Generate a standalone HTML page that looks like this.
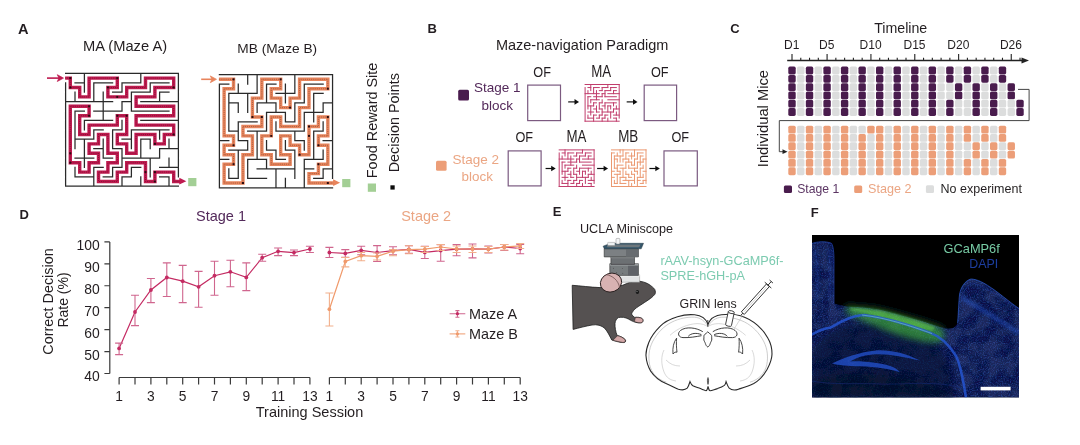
<!DOCTYPE html><html><head><meta charset="utf-8"><style>html,body{margin:0;padding:0;background:#fff;}svg{display:block;will-change:transform;}text{font-family:"Liberation Sans",sans-serif;}</style></head><body>
<svg width="1080" height="445" viewBox="0 0 1080 445">
<defs><filter id="soft" x="0" y="0" width="1080" height="445" filterUnits="userSpaceOnUse"><feGaussianBlur stdDeviation="0.4"/></filter></defs>
<rect width="1080" height="445" fill="#fff"/>
<g filter="url(#soft)">
<text x="18.0" y="34.2" font-size="14.6" fill="#231f20" font-weight="700" text-anchor="start" >A</text>
<text x="427.5" y="33.4" font-size="13" fill="#231f20" font-weight="700" text-anchor="start" >B</text>
<text x="730.2" y="33.3" font-size="13" fill="#231f20" font-weight="700" text-anchor="start" >C</text>
<text x="19.5" y="219.1" font-size="13" fill="#231f20" font-weight="700" text-anchor="start" >D</text>
<text x="552.8" y="215.8" font-size="13" fill="#231f20" font-weight="700" text-anchor="start" >E</text>
<text x="810.8" y="216.5" font-size="13" fill="#231f20" font-weight="700" text-anchor="start" >F</text>
<text x="83.0" y="50.6" font-size="14.7" fill="#231f20" font-weight="400" text-anchor="start" >MA (Maze A)</text>
<text x="237.3" y="53.3" font-size="13.7" fill="#231f20" font-weight="400" text-anchor="start" >MB (Maze B)</text>
<path d="M65.10 78.10L70.30 78.10L70.30 87.50L79.70 87.50L79.70 96.90L89.10 96.90L89.10 78.10L117.30 78.10L117.30 87.50L107.90 87.50L107.90 96.90L126.70 96.90L126.70 87.50L145.50 87.50L145.50 78.10L173.70 78.10L173.70 87.50L154.90 87.50L154.90 96.90L136.10 96.90L136.10 106.30L173.70 106.30L173.70 115.70L136.10 115.70L136.10 125.10L173.70 125.10L173.70 134.50L164.30 134.50L164.30 143.90L154.90 143.90L154.90 134.50L136.10 134.50L136.10 153.30L126.70 153.30L126.70 143.90L117.30 143.90L117.30 134.50L126.70 134.50L126.70 115.70L117.30 115.70L117.30 125.10L98.50 125.10L89.10 125.10L89.10 134.50L79.70 134.50L79.70 115.70L89.10 115.70L89.10 106.30L70.30 106.30L70.30 162.70L79.70 162.70L79.70 172.10L89.10 172.10L89.10 162.70L98.50 162.70L98.50 153.30L89.10 153.30L89.10 143.90L98.50 143.90L98.50 134.50L107.90 134.50L107.90 153.30L117.30 153.30L117.30 162.70L107.90 162.70L107.90 172.10L98.50 172.10L98.50 181.50L117.30 181.50L117.30 172.10L126.70 172.10L126.70 162.70L145.50 162.70L145.50 181.50L154.90 181.50L154.90 172.10L173.70 172.10L173.70 181.50L180.30 181.50" stroke="#be1a50" stroke-width="3.4" fill="none" stroke-linejoin="miter"/>
<path d="M65.10 78.10L70.30 78.10L70.30 87.50L79.70 87.50L79.70 96.90L89.10 96.90L89.10 78.10L117.30 78.10L117.30 87.50L107.90 87.50L107.90 96.90L126.70 96.90L126.70 87.50L145.50 87.50L145.50 78.10L173.70 78.10L173.70 87.50L154.90 87.50L154.90 96.90L136.10 96.90L136.10 106.30L173.70 106.30L173.70 115.70L136.10 115.70L136.10 125.10L173.70 125.10L173.70 134.50L164.30 134.50L164.30 143.90L154.90 143.90L154.90 134.50L136.10 134.50L136.10 153.30L126.70 153.30L126.70 143.90L117.30 143.90L117.30 134.50L126.70 134.50L126.70 115.70L117.30 115.70L117.30 125.10L98.50 125.10L89.10 125.10L89.10 134.50L79.70 134.50L79.70 115.70L89.10 115.70L89.10 106.30L70.30 106.30L70.30 162.70L79.70 162.70L79.70 172.10L89.10 172.10L89.10 162.70L98.50 162.70L98.50 153.30L89.10 153.30L89.10 143.90L98.50 143.90L98.50 134.50L107.90 134.50L107.90 153.30L117.30 153.30L117.30 162.70L107.90 162.70L107.90 172.10L98.50 172.10L98.50 181.50L117.30 181.50L117.30 172.10L126.70 172.10L126.70 162.70L145.50 162.70L145.50 181.50L154.90 181.50L154.90 172.10L173.70 172.10L173.70 181.50L180.30 181.50" stroke="#3a0010" stroke-width="0.7" stroke-dasharray="0.7 1.2" fill="none" opacity="0.7"/>
<path d="M186.30 181.20L179.30 177.80L179.30 184.60Z" fill="#be1a50"/>
<path d="M65.60 73.40H178.40M75.00 82.80H84.40M93.80 82.80H112.60M122.00 82.80H140.80M150.20 82.80H169.00M112.60 92.20H122.00M131.40 92.20H150.20M159.60 92.20H169.00M65.60 101.60H112.60M122.00 101.60H131.40M140.80 101.60H178.40M75.00 111.00H84.40M93.80 111.00H122.00M131.40 111.00H169.00M84.40 120.40H112.60M140.80 120.40H178.40M93.80 129.80H103.20M112.60 129.80H122.00M131.40 129.80H169.00M75.00 139.20H93.80M122.00 139.20H131.40M140.80 139.20H150.20M93.80 148.60H103.20M112.60 148.60H122.00M159.60 148.60H178.40M75.00 158.00H93.80M103.20 158.00H112.60M122.00 158.00H159.60M93.80 167.40H103.20M112.60 167.40H122.00M131.40 167.40H140.80M159.60 167.40H178.40M75.00 176.80H93.80M103.20 176.80H112.60M122.00 176.80H131.40M159.60 176.80H169.00M65.60 186.20H178.40M65.60 82.80V186.20M75.00 92.20V101.60M75.00 111.00V148.60M75.00 167.40V176.80M84.40 73.40V92.20M84.40 120.40V129.80M84.40 139.20V167.40M93.80 82.80V101.60M93.80 129.80V139.20M93.80 167.40V186.20M103.20 92.20V120.40M103.20 139.20V158.00M112.60 129.80V148.60M112.60 167.40V176.80M122.00 82.80V92.20M122.00 101.60V111.00M122.00 120.40V129.80M122.00 148.60V167.40M122.00 176.80V186.20M131.40 92.20V111.00M131.40 129.80V148.60M131.40 167.40V176.80M140.80 73.40V82.80M140.80 139.20V158.00M140.80 176.80V186.20M150.20 82.80V92.20M150.20 139.20V148.60M150.20 158.00V176.80M159.60 92.20V101.60M159.60 129.80V139.20M159.60 148.60V158.00M169.00 139.20V148.60M169.00 158.00V167.40M169.00 176.80V186.20M178.40 73.40V176.80" stroke="#2b2b2b" stroke-width="1.25" fill="none" stroke-linecap="square"/>
<rect x="69.30" y="77.10" width="2.0" height="2.0" fill="#2a0a10"/>
<rect x="69.30" y="86.50" width="2.0" height="2.0" fill="#2a0a10"/>
<rect x="116.30" y="77.10" width="2.0" height="2.0" fill="#2a0a10"/>
<rect x="106.90" y="86.50" width="2.0" height="2.0" fill="#2a0a10"/>
<rect x="116.30" y="95.90" width="2.0" height="2.0" fill="#2a0a10"/>
<rect x="172.70" y="86.50" width="2.0" height="2.0" fill="#2a0a10"/>
<rect x="88.10" y="105.30" width="2.0" height="2.0" fill="#2a0a10"/>
<rect x="88.10" y="114.70" width="2.0" height="2.0" fill="#2a0a10"/>
<rect x="116.30" y="114.70" width="2.0" height="2.0" fill="#2a0a10"/>
<rect x="125.70" y="114.70" width="2.0" height="2.0" fill="#2a0a10"/>
<rect x="172.70" y="133.50" width="2.0" height="2.0" fill="#2a0a10"/>
<rect x="153.90" y="142.90" width="2.0" height="2.0" fill="#2a0a10"/>
<rect x="69.30" y="152.30" width="2.0" height="2.0" fill="#2a0a10"/>
<rect x="69.30" y="161.70" width="2.0" height="2.0" fill="#2a0a10"/>
<rect x="144.50" y="171.10" width="2.0" height="2.0" fill="#2a0a10"/>
<rect x="153.90" y="171.10" width="2.0" height="2.0" fill="#2a0a10"/>
<rect x="153.90" y="180.50" width="2.0" height="2.0" fill="#2a0a10"/>
<path d="M47 78.1H59.5" stroke="#be1a50" stroke-width="1.6"/>
<path d="M63.5 78.1L57.3 74.69999999999999L58.9 78.1L57.3 81.5Z" fill="#be1a50" stroke="#be1a50" stroke-width="0.7" stroke-linejoin="round"/>
<rect x="188.2" y="178" width="8.2" height="8.2" fill="#a3cf95"/>
<path d="M218.90 79.31L224.12 79.31L233.55 79.31L233.55 88.74L224.12 88.74L224.12 135.89L233.55 135.89L233.55 145.32L224.12 145.32L224.12 154.75L233.55 154.75L233.55 164.19L224.12 164.19L224.12 183.04L242.97 183.04L242.97 154.75L252.41 154.75L252.41 135.89L242.97 135.89L242.97 126.46L261.84 126.46L261.84 117.03L252.41 117.03L252.41 98.17L261.84 98.17L261.84 79.31L280.69 79.31L280.69 88.74L271.26 88.74L271.26 98.17L280.69 98.17L280.69 107.60L290.12 107.60L290.12 98.17L299.56 98.17L299.56 79.31L327.85 79.31L327.85 88.74L308.99 88.74L308.99 107.60L299.56 107.60L299.56 126.46L280.69 126.46L280.69 117.03L271.26 117.03L271.26 135.89L261.84 135.89L261.84 154.75L271.26 154.75L271.26 164.19L290.12 164.19L290.12 154.75L280.69 154.75L280.69 135.89L290.12 135.89L290.12 145.32L299.56 145.32L299.56 154.75L308.99 154.75L308.99 126.46L318.42 126.46L318.42 117.03L327.85 117.03L327.85 135.89L318.42 135.89L318.42 145.32L327.85 145.32L327.85 164.19L318.42 164.19L318.42 173.62L308.99 173.62L308.99 183.04L327.85 183.04L334.10 183.04" stroke="#e8845c" stroke-width="3.4" fill="none" stroke-linejoin="miter"/>
<path d="M218.90 79.31L224.12 79.31L233.55 79.31L233.55 88.74L224.12 88.74L224.12 135.89L233.55 135.89L233.55 145.32L224.12 145.32L224.12 154.75L233.55 154.75L233.55 164.19L224.12 164.19L224.12 183.04L242.97 183.04L242.97 154.75L252.41 154.75L252.41 135.89L242.97 135.89L242.97 126.46L261.84 126.46L261.84 117.03L252.41 117.03L252.41 98.17L261.84 98.17L261.84 79.31L280.69 79.31L280.69 88.74L271.26 88.74L271.26 98.17L280.69 98.17L280.69 107.60L290.12 107.60L290.12 98.17L299.56 98.17L299.56 79.31L327.85 79.31L327.85 88.74L308.99 88.74L308.99 107.60L299.56 107.60L299.56 126.46L280.69 126.46L280.69 117.03L271.26 117.03L271.26 135.89L261.84 135.89L261.84 154.75L271.26 154.75L271.26 164.19L290.12 164.19L290.12 154.75L280.69 154.75L280.69 135.89L290.12 135.89L290.12 145.32L299.56 145.32L299.56 154.75L308.99 154.75L308.99 126.46L318.42 126.46L318.42 117.03L327.85 117.03L327.85 135.89L318.42 135.89L318.42 145.32L327.85 145.32L327.85 164.19L318.42 164.19L318.42 173.62L308.99 173.62L308.99 183.04L327.85 183.04L334.10 183.04" stroke="#402010" stroke-width="0.7" stroke-dasharray="0.7 1.2" fill="none" opacity="0.7"/>
<path d="M340.10 182.70L333.10 179.30L333.10 186.10Z" fill="#e8845c"/>
<path d="M219.40 74.60H332.56M219.40 84.03H228.83M266.55 84.03H275.98M304.27 84.03H323.13M228.83 93.46H257.12M275.98 93.46H294.84M313.70 93.46H323.13M228.83 102.89H238.26M257.12 102.89H275.98M294.84 102.89H304.27M323.13 102.89H332.56M266.55 112.32H285.41M304.27 112.32H323.13M238.26 121.75H257.12M285.41 121.75H294.84M228.83 131.18H238.26M247.69 131.18H266.55M275.98 131.18H304.27M313.70 131.18H323.13M219.40 140.61H228.83M238.26 140.61H247.69M294.84 140.61H304.27M323.13 140.61H332.56M228.83 150.04H247.69M266.55 150.04H275.98M285.41 150.04H294.84M219.40 159.47H228.83M247.69 159.47H266.55M275.98 159.47H285.41M304.27 159.47H323.13M257.12 168.90H294.84M304.27 168.90H313.70M323.13 168.90H332.56M228.83 178.33H238.26M247.69 178.33H266.55M313.70 178.33H323.13M219.40 187.76H332.56M219.40 84.03V187.76M228.83 93.46V131.18M228.83 168.90V178.33M238.26 84.03V93.46M238.26 102.89V112.32M238.26 121.75V140.61M238.26 150.04V178.33M247.69 74.60V84.03M247.69 93.46V112.32M247.69 140.61V150.04M247.69 159.47V178.33M257.12 74.60V93.46M257.12 102.89V112.32M257.12 131.18V159.47M266.55 84.03V102.89M266.55 112.32V131.18M266.55 140.61V150.04M266.55 159.47V168.90M275.98 102.89V112.32M275.98 121.75V131.18M275.98 150.04V159.47M275.98 168.90V187.76M285.41 84.03V102.89M285.41 112.32V121.75M285.41 140.61V150.04M285.41 178.33V187.76M294.84 74.60V93.46M294.84 102.89V121.75M294.84 131.18V140.61M294.84 150.04V178.33M304.27 84.03V102.89M304.27 112.32V131.18M304.27 140.61V150.04M304.27 159.47V187.76M313.70 93.46V121.75M313.70 131.18V159.47M323.13 102.89V112.32M323.13 121.75V131.18M323.13 150.04V159.47M323.13 168.90V178.33M332.56 74.60V178.33" stroke="#2b2b2b" stroke-width="1.25" fill="none" stroke-linecap="square"/>
<rect x="232.55" y="78.31" width="2.0" height="2.0" fill="#2a0a10"/>
<rect x="279.69" y="78.31" width="2.0" height="2.0" fill="#2a0a10"/>
<rect x="289.12" y="106.60" width="2.0" height="2.0" fill="#2a0a10"/>
<rect x="326.85" y="87.74" width="2.0" height="2.0" fill="#2a0a10"/>
<rect x="251.41" y="116.03" width="2.0" height="2.0" fill="#2a0a10"/>
<rect x="260.84" y="116.03" width="2.0" height="2.0" fill="#2a0a10"/>
<rect x="270.26" y="134.89" width="2.0" height="2.0" fill="#2a0a10"/>
<rect x="232.55" y="144.32" width="2.0" height="2.0" fill="#2a0a10"/>
<rect x="232.55" y="163.19" width="2.0" height="2.0" fill="#2a0a10"/>
<rect x="241.97" y="182.04" width="2.0" height="2.0" fill="#2a0a10"/>
<rect x="326.85" y="116.03" width="2.0" height="2.0" fill="#2a0a10"/>
<rect x="307.99" y="125.46" width="2.0" height="2.0" fill="#2a0a10"/>
<rect x="307.99" y="134.89" width="2.0" height="2.0" fill="#2a0a10"/>
<rect x="317.42" y="144.32" width="2.0" height="2.0" fill="#2a0a10"/>
<rect x="298.56" y="153.75" width="2.0" height="2.0" fill="#2a0a10"/>
<rect x="317.42" y="163.19" width="2.0" height="2.0" fill="#2a0a10"/>
<rect x="326.85" y="182.04" width="2.0" height="2.0" fill="#2a0a10"/>
<path d="M201.2 79.3H212.5" stroke="#e8845c" stroke-width="1.6"/>
<path d="M216.5 79.3L210.3 75.89999999999999L211.9 79.3L210.3 82.7Z" fill="#e8845c" stroke="#e8845c" stroke-width="0.7" stroke-linejoin="round"/>
<rect x="342.2" y="179" width="8.2" height="8.2" fill="#a3cf95"/>
<g transform="translate(376.7 178.2) rotate(-90)"><text x="0" y="0" font-size="14.45" fill="#231f20">Food Reward Site</text></g>
<g transform="translate(398.9 172.3) rotate(-90)"><text x="0" y="0" font-size="14.4" fill="#231f20">Decision Points</text></g>
<rect x="367.8" y="183.5" width="8.2" height="8.3" fill="#a3cf95"/>
<rect x="390.4" y="185.3" width="4.3" height="4.3" fill="#111"/>
<text x="495.9" y="50.3" font-size="14.5" fill="#231f20" font-weight="400" text-anchor="start" >Maze-navigation Paradigm</text>
<rect x="458.2" y="89.8" width="10.8" height="10.6" rx="1.5" fill="#4a1d4e"/>
<text x="473.9" y="92.0" font-size="13.5" fill="#53295a" font-weight="400" text-anchor="start" >Stage 1</text>
<text x="481.4" y="109.6" font-size="13.5" fill="#53295a" font-weight="400" text-anchor="start" >block</text>
<rect x="436.0" y="160.7" width="10.6" height="10.1" rx="1.5" fill="#ec9e78"/>
<text x="452.4" y="164.3" font-size="13.5" fill="#eba684" font-weight="400" text-anchor="start" >Stage 2</text>
<text x="461.6" y="181.1" font-size="13.4" fill="#eba684" font-weight="400" text-anchor="start" >block</text>
<rect x="527.7" y="85.1" width="32.8" height="35.5" fill="none" stroke="#7b5a80" stroke-width="1.2"/>
<text transform="translate(542.1 76.8) scale(1 1.2)" x="0" y="0" font-size="12.7" fill="#231f20" text-anchor="middle">OF</text>
<path d="M568.2 101.9H576" stroke="#111" stroke-width="1.2"/><path d="M579 101.9L574.5 99.10000000000001L574.5 104.7Z" fill="#111"/>
<path d="M585.10 84.50H619.20M587.94 87.56H590.78M593.62 87.56H599.31M602.15 87.56H607.83M610.68 87.56H616.36M599.31 90.62H602.15M604.99 90.62H610.68M613.52 90.62H616.36M585.10 93.67H599.31M602.15 93.67H604.99M607.83 93.67H619.20M587.94 96.73H590.78M593.62 96.73H602.15M604.99 96.73H616.36M590.78 99.79H599.31M607.83 99.79H619.20M593.62 102.85H596.47M599.31 102.85H602.15M604.99 102.85H616.36M587.94 105.91H593.62M602.15 105.91H604.99M607.83 105.91H610.68M593.62 108.97H596.47M599.31 108.97H602.15M613.52 108.97H619.20M587.94 112.03H593.62M596.47 112.03H599.31M602.15 112.03H613.52M593.62 115.08H596.47M599.31 115.08H602.15M604.99 115.08H607.83M613.52 115.08H619.20M587.94 118.14H593.62M596.47 118.14H599.31M602.15 118.14H604.99M613.52 118.14H616.36M585.10 121.20H619.20M585.10 87.56V121.20M587.94 90.62V93.67M587.94 96.73V108.97M587.94 115.08V118.14M590.78 84.50V90.62M590.78 99.79V102.85M590.78 105.91V115.08M593.62 87.56V93.67M593.62 102.85V105.91M593.62 115.08V121.20M596.47 90.62V99.79M596.47 105.91V112.03M599.31 102.85V108.97M599.31 115.08V118.14M602.15 87.56V90.62M602.15 93.67V96.73M602.15 99.79V102.85M602.15 108.97V115.08M602.15 118.14V121.20M604.99 90.62V96.73M604.99 102.85V108.97M604.99 115.08V118.14M607.83 84.50V87.56M607.83 105.91V112.03M607.83 118.14V121.20M610.68 87.56V90.62M610.68 105.91V108.97M610.68 112.03V118.14M613.52 90.62V93.67M613.52 102.85V105.91M613.52 108.97V112.03M616.36 105.91V108.97M616.36 112.03V115.08M616.36 118.14V121.20M619.20 84.50V118.14" stroke="#c13d6c" stroke-width="1.0" fill="none" stroke-linecap="square"/>
<text transform="translate(601.2 76.8) scale(1 1.2)" x="0" y="0" font-size="13.3" fill="#231f20" text-anchor="middle">MA</text>
<path d="M626.7 101.9H634.5" stroke="#111" stroke-width="1.2"/><path d="M637.5 101.9L633.0 99.10000000000001L633.0 104.7Z" fill="#111"/>
<rect x="644.2" y="85.1" width="32.40000000000002" height="35.5" fill="none" stroke="#7b5a80" stroke-width="1.2"/>
<text transform="translate(659.7 76.8) scale(1 1.2)" x="0" y="0" font-size="12.7" fill="#231f20" text-anchor="middle">OF</text>
<rect x="508.20000000000005" y="150.9" width="32.90000000000002" height="34.999999999999986" fill="none" stroke="#7b5a80" stroke-width="1.2"/>
<text transform="translate(524.3 141.9) scale(1 1.2)" x="0" y="0" font-size="12.7" fill="#231f20" text-anchor="middle">OF</text>
<path d="M545.6 168.5H552.7" stroke="#111" stroke-width="1.2"/><path d="M555.7 168.5L551.2 165.7L551.2 171.3Z" fill="#111"/>
<path d="M559.20 149.90H594.10M562.11 152.95H565.02M567.93 152.95H573.74M576.65 152.95H582.47M585.38 152.95H591.19M573.74 156.00H576.65M579.56 156.00H585.38M588.28 156.00H591.19M559.20 159.05H573.74M576.65 159.05H579.56M582.47 159.05H594.10M562.11 162.10H565.02M567.93 162.10H576.65M579.56 162.10H591.19M565.02 165.15H573.74M582.47 165.15H594.10M567.93 168.20H570.83M573.74 168.20H576.65M579.56 168.20H591.19M562.11 171.25H567.93M576.65 171.25H579.56M582.47 171.25H585.38M567.93 174.30H570.83M573.74 174.30H576.65M588.28 174.30H594.10M562.11 177.35H567.93M570.83 177.35H573.74M576.65 177.35H588.28M567.93 180.40H570.83M573.74 180.40H576.65M579.56 180.40H582.47M588.28 180.40H594.10M562.11 183.45H567.93M570.83 183.45H573.74M576.65 183.45H579.56M588.28 183.45H591.19M559.20 186.50H594.10M559.20 152.95V186.50M562.11 156.00V159.05M562.11 162.10V174.30M562.11 180.40V183.45M565.02 149.90V156.00M565.02 165.15V168.20M565.02 171.25V180.40M567.93 152.95V159.05M567.93 168.20V171.25M567.93 180.40V186.50M570.83 156.00V165.15M570.83 171.25V177.35M573.74 168.20V174.30M573.74 180.40V183.45M576.65 152.95V156.00M576.65 159.05V162.10M576.65 165.15V168.20M576.65 174.30V180.40M576.65 183.45V186.50M579.56 156.00V162.10M579.56 168.20V174.30M579.56 180.40V183.45M582.47 149.90V152.95M582.47 171.25V177.35M582.47 183.45V186.50M585.38 152.95V156.00M585.38 171.25V174.30M585.38 177.35V183.45M588.28 156.00V159.05M588.28 168.20V171.25M588.28 174.30V177.35M591.19 171.25V174.30M591.19 177.35V180.40M591.19 183.45V186.50M594.10 149.90V183.45" stroke="#c13d6c" stroke-width="1.0" fill="none" stroke-linecap="square"/>
<text transform="translate(576.4 141.9) scale(1 1.2)" x="0" y="0" font-size="13.3" fill="#231f20" text-anchor="middle">MA</text>
<path d="M597.1 168.5H605.1" stroke="#111" stroke-width="1.2"/><path d="M608.1 168.5L603.6 165.7L603.6 171.3Z" fill="#111"/>
<path d="M611.50 149.90H646.00M611.50 152.95H614.38M625.88 152.95H628.75M637.38 152.95H643.12M614.38 156.00H623.00M628.75 156.00H634.50M640.25 156.00H643.12M614.38 159.05H617.25M623.00 159.05H628.75M634.50 159.05H637.38M643.12 159.05H646.00M625.88 162.10H631.62M637.38 162.10H643.12M617.25 165.15H623.00M631.62 165.15H634.50M614.38 168.20H617.25M620.12 168.20H625.88M628.75 168.20H637.38M640.25 168.20H643.12M611.50 171.25H614.38M617.25 171.25H620.12M634.50 171.25H637.38M643.12 171.25H646.00M614.38 174.30H620.12M625.88 174.30H628.75M631.62 174.30H634.50M611.50 177.35H614.38M620.12 177.35H625.88M628.75 177.35H631.62M637.38 177.35H643.12M623.00 180.40H634.50M637.38 180.40H640.25M643.12 180.40H646.00M614.38 183.45H617.25M620.12 183.45H625.88M640.25 183.45H643.12M611.50 186.50H646.00M611.50 152.95V186.50M614.38 156.00V168.20M614.38 180.40V183.45M617.25 152.95V156.00M617.25 159.05V162.10M617.25 165.15V171.25M617.25 174.30V183.45M620.12 149.90V152.95M620.12 156.00V162.10M620.12 171.25V174.30M620.12 177.35V183.45M623.00 149.90V156.00M623.00 159.05V162.10M623.00 168.20V177.35M625.88 152.95V159.05M625.88 162.10V168.20M625.88 171.25V174.30M625.88 177.35V180.40M628.75 159.05V162.10M628.75 165.15V168.20M628.75 174.30V177.35M628.75 180.40V186.50M631.62 152.95V159.05M631.62 162.10V165.15M631.62 171.25V174.30M631.62 183.45V186.50M634.50 149.90V156.00M634.50 159.05V165.15M634.50 168.20V171.25M634.50 174.30V183.45M637.38 152.95V159.05M637.38 162.10V168.20M637.38 171.25V174.30M637.38 177.35V186.50M640.25 156.00V165.15M640.25 168.20V177.35M643.12 159.05V162.10M643.12 165.15V168.20M643.12 174.30V177.35M643.12 180.40V183.45M646.00 149.90V183.45" stroke="#eb9870" stroke-width="1.0" fill="none" stroke-linecap="square"/>
<text transform="translate(628.2 141.9) scale(1 1.2)" x="0" y="0" font-size="13.4" fill="#231f20" text-anchor="middle">MB</text>
<path d="M649.4 168.5H656.8" stroke="#111" stroke-width="1.2"/><path d="M659.8 168.5L655.3 165.7L655.3 171.3Z" fill="#111"/>
<rect x="664.0" y="150.9" width="33.3" height="34.999999999999986" fill="none" stroke="#7b5a80" stroke-width="1.2"/>
<text transform="translate(680.3 141.9) scale(1 1.2)" x="0" y="0" font-size="12.7" fill="#231f20" text-anchor="middle">OF</text>
<text x="900.7" y="33.3" font-size="14.2" fill="#231f20" font-weight="400" text-anchor="middle" >Timeline</text>
<text x="791.7" y="48.8" font-size="12" fill="#231f20" font-weight="400" text-anchor="middle" >D1</text>
<text x="826.7800000000001" y="48.8" font-size="12" fill="#231f20" font-weight="400" text-anchor="middle" >D5</text>
<text x="870.63" y="48.8" font-size="12" fill="#231f20" font-weight="400" text-anchor="middle" >D10</text>
<text x="914.48" y="48.8" font-size="12" fill="#231f20" font-weight="400" text-anchor="middle" >D15</text>
<text x="958.33" y="48.8" font-size="12" fill="#231f20" font-weight="400" text-anchor="middle" >D20</text>
<text x="1010.95" y="48.8" font-size="12" fill="#231f20" font-weight="400" text-anchor="middle" >D26</text>
<path d="M787.2 60.5H1024" stroke="#222" stroke-width="1.5"/>
<path d="M1029 60.5L1021.5 57.4L1021.5 63.6Z" fill="#222"/>
<path d="M792.00 53.9V60.5M800.77 57.8V60.5M809.54 57.8V60.5M818.31 57.8V60.5M827.08 53.9V60.5M835.85 57.8V60.5M844.62 57.8V60.5M853.39 57.8V60.5M862.16 57.8V60.5M870.93 53.9V60.5M879.70 57.8V60.5M888.47 57.8V60.5M897.24 57.8V60.5M906.01 57.8V60.5M914.78 53.9V60.5M923.55 57.8V60.5M932.32 57.8V60.5M941.09 57.8V60.5M949.86 57.8V60.5M958.63 53.9V60.5M967.40 57.8V60.5M976.17 57.8V60.5M984.94 57.8V60.5M993.71 57.8V60.5M1002.48 57.8V60.5M1011.25 53.9V60.5M1020.02 57.8V60.5" stroke="#222" stroke-width="1.1"/>
<rect x="788.30" y="66.60" width="7.4" height="7.8" rx="1.6" fill="#4a1d4e"/>
<rect x="797.07" y="66.60" width="7.4" height="7.8" rx="1.6" fill="#dcdddd"/>
<rect x="805.84" y="66.60" width="7.4" height="7.8" rx="1.6" fill="#4a1d4e"/>
<rect x="814.61" y="66.60" width="7.4" height="7.8" rx="1.6" fill="#dcdddd"/>
<rect x="823.38" y="66.60" width="7.4" height="7.8" rx="1.6" fill="#4a1d4e"/>
<rect x="832.15" y="66.60" width="7.4" height="7.8" rx="1.6" fill="#dcdddd"/>
<rect x="840.92" y="66.60" width="7.4" height="7.8" rx="1.6" fill="#4a1d4e"/>
<rect x="849.69" y="66.60" width="7.4" height="7.8" rx="1.6" fill="#dcdddd"/>
<rect x="858.46" y="66.60" width="7.4" height="7.8" rx="1.6" fill="#4a1d4e"/>
<rect x="867.23" y="66.60" width="7.4" height="7.8" rx="1.6" fill="#dcdddd"/>
<rect x="876.00" y="66.60" width="7.4" height="7.8" rx="1.6" fill="#4a1d4e"/>
<rect x="884.77" y="66.60" width="7.4" height="7.8" rx="1.6" fill="#dcdddd"/>
<rect x="893.54" y="66.60" width="7.4" height="7.8" rx="1.6" fill="#4a1d4e"/>
<rect x="902.31" y="66.60" width="7.4" height="7.8" rx="1.6" fill="#dcdddd"/>
<rect x="911.08" y="66.60" width="7.4" height="7.8" rx="1.6" fill="#4a1d4e"/>
<rect x="919.85" y="66.60" width="7.4" height="7.8" rx="1.6" fill="#dcdddd"/>
<rect x="928.62" y="66.60" width="7.4" height="7.8" rx="1.6" fill="#4a1d4e"/>
<rect x="937.39" y="66.60" width="7.4" height="7.8" rx="1.6" fill="#dcdddd"/>
<rect x="946.16" y="66.60" width="7.4" height="7.8" rx="1.6" fill="#4a1d4e"/>
<rect x="954.93" y="66.60" width="7.4" height="7.8" rx="1.6" fill="#dcdddd"/>
<rect x="963.70" y="66.60" width="7.4" height="7.8" rx="1.6" fill="#4a1d4e"/>
<rect x="972.47" y="66.60" width="7.4" height="7.8" rx="1.6" fill="#dcdddd"/>
<rect x="981.24" y="66.60" width="7.4" height="7.8" rx="1.6" fill="#4a1d4e"/>
<rect x="990.01" y="66.60" width="7.4" height="7.8" rx="1.6" fill="#dcdddd"/>
<rect x="998.78" y="66.60" width="7.4" height="7.8" rx="1.6" fill="#4a1d4e"/>
<rect x="788.30" y="74.90" width="7.4" height="7.8" rx="1.6" fill="#4a1d4e"/>
<rect x="797.07" y="74.90" width="7.4" height="7.8" rx="1.6" fill="#dcdddd"/>
<rect x="805.84" y="74.90" width="7.4" height="7.8" rx="1.6" fill="#4a1d4e"/>
<rect x="814.61" y="74.90" width="7.4" height="7.8" rx="1.6" fill="#dcdddd"/>
<rect x="823.38" y="74.90" width="7.4" height="7.8" rx="1.6" fill="#4a1d4e"/>
<rect x="832.15" y="74.90" width="7.4" height="7.8" rx="1.6" fill="#dcdddd"/>
<rect x="840.92" y="74.90" width="7.4" height="7.8" rx="1.6" fill="#4a1d4e"/>
<rect x="849.69" y="74.90" width="7.4" height="7.8" rx="1.6" fill="#dcdddd"/>
<rect x="858.46" y="74.90" width="7.4" height="7.8" rx="1.6" fill="#4a1d4e"/>
<rect x="867.23" y="74.90" width="7.4" height="7.8" rx="1.6" fill="#dcdddd"/>
<rect x="876.00" y="74.90" width="7.4" height="7.8" rx="1.6" fill="#4a1d4e"/>
<rect x="884.77" y="74.90" width="7.4" height="7.8" rx="1.6" fill="#dcdddd"/>
<rect x="893.54" y="74.90" width="7.4" height="7.8" rx="1.6" fill="#4a1d4e"/>
<rect x="902.31" y="74.90" width="7.4" height="7.8" rx="1.6" fill="#dcdddd"/>
<rect x="911.08" y="74.90" width="7.4" height="7.8" rx="1.6" fill="#4a1d4e"/>
<rect x="919.85" y="74.90" width="7.4" height="7.8" rx="1.6" fill="#dcdddd"/>
<rect x="928.62" y="74.90" width="7.4" height="7.8" rx="1.6" fill="#4a1d4e"/>
<rect x="937.39" y="74.90" width="7.4" height="7.8" rx="1.6" fill="#dcdddd"/>
<rect x="946.16" y="74.90" width="7.4" height="7.8" rx="1.6" fill="#4a1d4e"/>
<rect x="954.93" y="74.90" width="7.4" height="7.8" rx="1.6" fill="#dcdddd"/>
<rect x="963.70" y="74.90" width="7.4" height="7.8" rx="1.6" fill="#4a1d4e"/>
<rect x="972.47" y="74.90" width="7.4" height="7.8" rx="1.6" fill="#dcdddd"/>
<rect x="981.24" y="74.90" width="7.4" height="7.8" rx="1.6" fill="#4a1d4e"/>
<rect x="990.01" y="74.90" width="7.4" height="7.8" rx="1.6" fill="#dcdddd"/>
<rect x="998.78" y="74.90" width="7.4" height="7.8" rx="1.6" fill="#4a1d4e"/>
<rect x="788.30" y="83.20" width="7.4" height="7.8" rx="1.6" fill="#4a1d4e"/>
<rect x="797.07" y="83.20" width="7.4" height="7.8" rx="1.6" fill="#dcdddd"/>
<rect x="805.84" y="83.20" width="7.4" height="7.8" rx="1.6" fill="#4a1d4e"/>
<rect x="814.61" y="83.20" width="7.4" height="7.8" rx="1.6" fill="#dcdddd"/>
<rect x="823.38" y="83.20" width="7.4" height="7.8" rx="1.6" fill="#4a1d4e"/>
<rect x="832.15" y="83.20" width="7.4" height="7.8" rx="1.6" fill="#dcdddd"/>
<rect x="840.92" y="83.20" width="7.4" height="7.8" rx="1.6" fill="#4a1d4e"/>
<rect x="849.69" y="83.20" width="7.4" height="7.8" rx="1.6" fill="#dcdddd"/>
<rect x="858.46" y="83.20" width="7.4" height="7.8" rx="1.6" fill="#4a1d4e"/>
<rect x="867.23" y="83.20" width="7.4" height="7.8" rx="1.6" fill="#dcdddd"/>
<rect x="876.00" y="83.20" width="7.4" height="7.8" rx="1.6" fill="#4a1d4e"/>
<rect x="884.77" y="83.20" width="7.4" height="7.8" rx="1.6" fill="#dcdddd"/>
<rect x="893.54" y="83.20" width="7.4" height="7.8" rx="1.6" fill="#4a1d4e"/>
<rect x="902.31" y="83.20" width="7.4" height="7.8" rx="1.6" fill="#dcdddd"/>
<rect x="911.08" y="83.20" width="7.4" height="7.8" rx="1.6" fill="#4a1d4e"/>
<rect x="919.85" y="83.20" width="7.4" height="7.8" rx="1.6" fill="#dcdddd"/>
<rect x="928.62" y="83.20" width="7.4" height="7.8" rx="1.6" fill="#4a1d4e"/>
<rect x="937.39" y="83.20" width="7.4" height="7.8" rx="1.6" fill="#dcdddd"/>
<rect x="946.16" y="83.20" width="7.4" height="7.8" rx="1.6" fill="#dcdddd"/>
<rect x="954.93" y="83.20" width="7.4" height="7.8" rx="1.6" fill="#4a1d4e"/>
<rect x="963.70" y="83.20" width="7.4" height="7.8" rx="1.6" fill="#dcdddd"/>
<rect x="972.47" y="83.20" width="7.4" height="7.8" rx="1.6" fill="#4a1d4e"/>
<rect x="981.24" y="83.20" width="7.4" height="7.8" rx="1.6" fill="#dcdddd"/>
<rect x="990.01" y="83.20" width="7.4" height="7.8" rx="1.6" fill="#4a1d4e"/>
<rect x="998.78" y="83.20" width="7.4" height="7.8" rx="1.6" fill="#dcdddd"/>
<rect x="1007.55" y="83.20" width="7.4" height="7.8" rx="1.6" fill="#4a1d4e"/>
<rect x="788.30" y="91.50" width="7.4" height="7.8" rx="1.6" fill="#4a1d4e"/>
<rect x="797.07" y="91.50" width="7.4" height="7.8" rx="1.6" fill="#dcdddd"/>
<rect x="805.84" y="91.50" width="7.4" height="7.8" rx="1.6" fill="#4a1d4e"/>
<rect x="814.61" y="91.50" width="7.4" height="7.8" rx="1.6" fill="#dcdddd"/>
<rect x="823.38" y="91.50" width="7.4" height="7.8" rx="1.6" fill="#4a1d4e"/>
<rect x="832.15" y="91.50" width="7.4" height="7.8" rx="1.6" fill="#dcdddd"/>
<rect x="840.92" y="91.50" width="7.4" height="7.8" rx="1.6" fill="#4a1d4e"/>
<rect x="849.69" y="91.50" width="7.4" height="7.8" rx="1.6" fill="#dcdddd"/>
<rect x="858.46" y="91.50" width="7.4" height="7.8" rx="1.6" fill="#4a1d4e"/>
<rect x="867.23" y="91.50" width="7.4" height="7.8" rx="1.6" fill="#dcdddd"/>
<rect x="876.00" y="91.50" width="7.4" height="7.8" rx="1.6" fill="#4a1d4e"/>
<rect x="884.77" y="91.50" width="7.4" height="7.8" rx="1.6" fill="#dcdddd"/>
<rect x="893.54" y="91.50" width="7.4" height="7.8" rx="1.6" fill="#4a1d4e"/>
<rect x="902.31" y="91.50" width="7.4" height="7.8" rx="1.6" fill="#dcdddd"/>
<rect x="911.08" y="91.50" width="7.4" height="7.8" rx="1.6" fill="#4a1d4e"/>
<rect x="919.85" y="91.50" width="7.4" height="7.8" rx="1.6" fill="#dcdddd"/>
<rect x="928.62" y="91.50" width="7.4" height="7.8" rx="1.6" fill="#4a1d4e"/>
<rect x="937.39" y="91.50" width="7.4" height="7.8" rx="1.6" fill="#dcdddd"/>
<rect x="946.16" y="91.50" width="7.4" height="7.8" rx="1.6" fill="#dcdddd"/>
<rect x="954.93" y="91.50" width="7.4" height="7.8" rx="1.6" fill="#4a1d4e"/>
<rect x="963.70" y="91.50" width="7.4" height="7.8" rx="1.6" fill="#dcdddd"/>
<rect x="972.47" y="91.50" width="7.4" height="7.8" rx="1.6" fill="#4a1d4e"/>
<rect x="981.24" y="91.50" width="7.4" height="7.8" rx="1.6" fill="#dcdddd"/>
<rect x="990.01" y="91.50" width="7.4" height="7.8" rx="1.6" fill="#4a1d4e"/>
<rect x="998.78" y="91.50" width="7.4" height="7.8" rx="1.6" fill="#dcdddd"/>
<rect x="1007.55" y="91.50" width="7.4" height="7.8" rx="1.6" fill="#4a1d4e"/>
<rect x="788.30" y="99.80" width="7.4" height="7.8" rx="1.6" fill="#4a1d4e"/>
<rect x="797.07" y="99.80" width="7.4" height="7.8" rx="1.6" fill="#dcdddd"/>
<rect x="805.84" y="99.80" width="7.4" height="7.8" rx="1.6" fill="#4a1d4e"/>
<rect x="814.61" y="99.80" width="7.4" height="7.8" rx="1.6" fill="#dcdddd"/>
<rect x="823.38" y="99.80" width="7.4" height="7.8" rx="1.6" fill="#4a1d4e"/>
<rect x="832.15" y="99.80" width="7.4" height="7.8" rx="1.6" fill="#dcdddd"/>
<rect x="840.92" y="99.80" width="7.4" height="7.8" rx="1.6" fill="#4a1d4e"/>
<rect x="849.69" y="99.80" width="7.4" height="7.8" rx="1.6" fill="#dcdddd"/>
<rect x="858.46" y="99.80" width="7.4" height="7.8" rx="1.6" fill="#4a1d4e"/>
<rect x="867.23" y="99.80" width="7.4" height="7.8" rx="1.6" fill="#dcdddd"/>
<rect x="876.00" y="99.80" width="7.4" height="7.8" rx="1.6" fill="#4a1d4e"/>
<rect x="884.77" y="99.80" width="7.4" height="7.8" rx="1.6" fill="#dcdddd"/>
<rect x="893.54" y="99.80" width="7.4" height="7.8" rx="1.6" fill="#4a1d4e"/>
<rect x="902.31" y="99.80" width="7.4" height="7.8" rx="1.6" fill="#dcdddd"/>
<rect x="911.08" y="99.80" width="7.4" height="7.8" rx="1.6" fill="#4a1d4e"/>
<rect x="919.85" y="99.80" width="7.4" height="7.8" rx="1.6" fill="#dcdddd"/>
<rect x="928.62" y="99.80" width="7.4" height="7.8" rx="1.6" fill="#4a1d4e"/>
<rect x="937.39" y="99.80" width="7.4" height="7.8" rx="1.6" fill="#dcdddd"/>
<rect x="946.16" y="99.80" width="7.4" height="7.8" rx="1.6" fill="#4a1d4e"/>
<rect x="954.93" y="99.80" width="7.4" height="7.8" rx="1.6" fill="#dcdddd"/>
<rect x="963.70" y="99.80" width="7.4" height="7.8" rx="1.6" fill="#dcdddd"/>
<rect x="972.47" y="99.80" width="7.4" height="7.8" rx="1.6" fill="#4a1d4e"/>
<rect x="981.24" y="99.80" width="7.4" height="7.8" rx="1.6" fill="#dcdddd"/>
<rect x="990.01" y="99.80" width="7.4" height="7.8" rx="1.6" fill="#4a1d4e"/>
<rect x="998.78" y="99.80" width="7.4" height="7.8" rx="1.6" fill="#dcdddd"/>
<rect x="1007.55" y="99.80" width="7.4" height="7.8" rx="1.6" fill="#dcdddd"/>
<rect x="1016.32" y="99.80" width="7.4" height="7.8" rx="1.6" fill="#4a1d4e"/>
<rect x="788.30" y="108.10" width="7.4" height="7.8" rx="1.6" fill="#4a1d4e"/>
<rect x="797.07" y="108.10" width="7.4" height="7.8" rx="1.6" fill="#dcdddd"/>
<rect x="805.84" y="108.10" width="7.4" height="7.8" rx="1.6" fill="#4a1d4e"/>
<rect x="814.61" y="108.10" width="7.4" height="7.8" rx="1.6" fill="#dcdddd"/>
<rect x="823.38" y="108.10" width="7.4" height="7.8" rx="1.6" fill="#4a1d4e"/>
<rect x="832.15" y="108.10" width="7.4" height="7.8" rx="1.6" fill="#dcdddd"/>
<rect x="840.92" y="108.10" width="7.4" height="7.8" rx="1.6" fill="#4a1d4e"/>
<rect x="849.69" y="108.10" width="7.4" height="7.8" rx="1.6" fill="#dcdddd"/>
<rect x="858.46" y="108.10" width="7.4" height="7.8" rx="1.6" fill="#4a1d4e"/>
<rect x="867.23" y="108.10" width="7.4" height="7.8" rx="1.6" fill="#dcdddd"/>
<rect x="876.00" y="108.10" width="7.4" height="7.8" rx="1.6" fill="#4a1d4e"/>
<rect x="884.77" y="108.10" width="7.4" height="7.8" rx="1.6" fill="#dcdddd"/>
<rect x="893.54" y="108.10" width="7.4" height="7.8" rx="1.6" fill="#4a1d4e"/>
<rect x="902.31" y="108.10" width="7.4" height="7.8" rx="1.6" fill="#dcdddd"/>
<rect x="911.08" y="108.10" width="7.4" height="7.8" rx="1.6" fill="#4a1d4e"/>
<rect x="919.85" y="108.10" width="7.4" height="7.8" rx="1.6" fill="#dcdddd"/>
<rect x="928.62" y="108.10" width="7.4" height="7.8" rx="1.6" fill="#4a1d4e"/>
<rect x="937.39" y="108.10" width="7.4" height="7.8" rx="1.6" fill="#dcdddd"/>
<rect x="946.16" y="108.10" width="7.4" height="7.8" rx="1.6" fill="#4a1d4e"/>
<rect x="954.93" y="108.10" width="7.4" height="7.8" rx="1.6" fill="#dcdddd"/>
<rect x="963.70" y="108.10" width="7.4" height="7.8" rx="1.6" fill="#dcdddd"/>
<rect x="972.47" y="108.10" width="7.4" height="7.8" rx="1.6" fill="#4a1d4e"/>
<rect x="981.24" y="108.10" width="7.4" height="7.8" rx="1.6" fill="#dcdddd"/>
<rect x="990.01" y="108.10" width="7.4" height="7.8" rx="1.6" fill="#4a1d4e"/>
<rect x="998.78" y="108.10" width="7.4" height="7.8" rx="1.6" fill="#dcdddd"/>
<rect x="1007.55" y="108.10" width="7.4" height="7.8" rx="1.6" fill="#dcdddd"/>
<rect x="1016.32" y="108.10" width="7.4" height="7.8" rx="1.6" fill="#4a1d4e"/>
<rect x="788.30" y="125.70" width="7.4" height="7.8" rx="1.6" fill="#ec9e78"/>
<rect x="797.07" y="125.70" width="7.4" height="7.8" rx="1.6" fill="#dcdddd"/>
<rect x="805.84" y="125.70" width="7.4" height="7.8" rx="1.6" fill="#ec9e78"/>
<rect x="814.61" y="125.70" width="7.4" height="7.8" rx="1.6" fill="#dcdddd"/>
<rect x="823.38" y="125.70" width="7.4" height="7.8" rx="1.6" fill="#ec9e78"/>
<rect x="832.15" y="125.70" width="7.4" height="7.8" rx="1.6" fill="#dcdddd"/>
<rect x="840.92" y="125.70" width="7.4" height="7.8" rx="1.6" fill="#ec9e78"/>
<rect x="849.69" y="125.70" width="7.4" height="7.8" rx="1.6" fill="#dcdddd"/>
<rect x="858.46" y="125.70" width="7.4" height="7.8" rx="1.6" fill="#dcdddd"/>
<rect x="867.23" y="125.70" width="7.4" height="7.8" rx="1.6" fill="#ec9e78"/>
<rect x="876.00" y="125.70" width="7.4" height="7.8" rx="1.6" fill="#ec9e78"/>
<rect x="884.77" y="125.70" width="7.4" height="7.8" rx="1.6" fill="#dcdddd"/>
<rect x="893.54" y="125.70" width="7.4" height="7.8" rx="1.6" fill="#ec9e78"/>
<rect x="902.31" y="125.70" width="7.4" height="7.8" rx="1.6" fill="#dcdddd"/>
<rect x="911.08" y="125.70" width="7.4" height="7.8" rx="1.6" fill="#ec9e78"/>
<rect x="919.85" y="125.70" width="7.4" height="7.8" rx="1.6" fill="#dcdddd"/>
<rect x="928.62" y="125.70" width="7.4" height="7.8" rx="1.6" fill="#ec9e78"/>
<rect x="937.39" y="125.70" width="7.4" height="7.8" rx="1.6" fill="#dcdddd"/>
<rect x="946.16" y="125.70" width="7.4" height="7.8" rx="1.6" fill="#ec9e78"/>
<rect x="954.93" y="125.70" width="7.4" height="7.8" rx="1.6" fill="#dcdddd"/>
<rect x="963.70" y="125.70" width="7.4" height="7.8" rx="1.6" fill="#ec9e78"/>
<rect x="972.47" y="125.70" width="7.4" height="7.8" rx="1.6" fill="#dcdddd"/>
<rect x="981.24" y="125.70" width="7.4" height="7.8" rx="1.6" fill="#ec9e78"/>
<rect x="990.01" y="125.70" width="7.4" height="7.8" rx="1.6" fill="#dcdddd"/>
<rect x="998.78" y="125.70" width="7.4" height="7.8" rx="1.6" fill="#ec9e78"/>
<rect x="788.30" y="134.03" width="7.4" height="7.8" rx="1.6" fill="#ec9e78"/>
<rect x="797.07" y="134.03" width="7.4" height="7.8" rx="1.6" fill="#dcdddd"/>
<rect x="805.84" y="134.03" width="7.4" height="7.8" rx="1.6" fill="#ec9e78"/>
<rect x="814.61" y="134.03" width="7.4" height="7.8" rx="1.6" fill="#dcdddd"/>
<rect x="823.38" y="134.03" width="7.4" height="7.8" rx="1.6" fill="#ec9e78"/>
<rect x="832.15" y="134.03" width="7.4" height="7.8" rx="1.6" fill="#dcdddd"/>
<rect x="840.92" y="134.03" width="7.4" height="7.8" rx="1.6" fill="#ec9e78"/>
<rect x="849.69" y="134.03" width="7.4" height="7.8" rx="1.6" fill="#dcdddd"/>
<rect x="858.46" y="134.03" width="7.4" height="7.8" rx="1.6" fill="#ec9e78"/>
<rect x="867.23" y="134.03" width="7.4" height="7.8" rx="1.6" fill="#dcdddd"/>
<rect x="876.00" y="134.03" width="7.4" height="7.8" rx="1.6" fill="#ec9e78"/>
<rect x="884.77" y="134.03" width="7.4" height="7.8" rx="1.6" fill="#dcdddd"/>
<rect x="893.54" y="134.03" width="7.4" height="7.8" rx="1.6" fill="#ec9e78"/>
<rect x="902.31" y="134.03" width="7.4" height="7.8" rx="1.6" fill="#dcdddd"/>
<rect x="911.08" y="134.03" width="7.4" height="7.8" rx="1.6" fill="#ec9e78"/>
<rect x="919.85" y="134.03" width="7.4" height="7.8" rx="1.6" fill="#dcdddd"/>
<rect x="928.62" y="134.03" width="7.4" height="7.8" rx="1.6" fill="#ec9e78"/>
<rect x="937.39" y="134.03" width="7.4" height="7.8" rx="1.6" fill="#dcdddd"/>
<rect x="946.16" y="134.03" width="7.4" height="7.8" rx="1.6" fill="#ec9e78"/>
<rect x="954.93" y="134.03" width="7.4" height="7.8" rx="1.6" fill="#dcdddd"/>
<rect x="963.70" y="134.03" width="7.4" height="7.8" rx="1.6" fill="#ec9e78"/>
<rect x="972.47" y="134.03" width="7.4" height="7.8" rx="1.6" fill="#dcdddd"/>
<rect x="981.24" y="134.03" width="7.4" height="7.8" rx="1.6" fill="#ec9e78"/>
<rect x="990.01" y="134.03" width="7.4" height="7.8" rx="1.6" fill="#dcdddd"/>
<rect x="998.78" y="134.03" width="7.4" height="7.8" rx="1.6" fill="#ec9e78"/>
<rect x="788.30" y="142.36" width="7.4" height="7.8" rx="1.6" fill="#ec9e78"/>
<rect x="797.07" y="142.36" width="7.4" height="7.8" rx="1.6" fill="#dcdddd"/>
<rect x="805.84" y="142.36" width="7.4" height="7.8" rx="1.6" fill="#ec9e78"/>
<rect x="814.61" y="142.36" width="7.4" height="7.8" rx="1.6" fill="#dcdddd"/>
<rect x="823.38" y="142.36" width="7.4" height="7.8" rx="1.6" fill="#ec9e78"/>
<rect x="832.15" y="142.36" width="7.4" height="7.8" rx="1.6" fill="#dcdddd"/>
<rect x="840.92" y="142.36" width="7.4" height="7.8" rx="1.6" fill="#ec9e78"/>
<rect x="849.69" y="142.36" width="7.4" height="7.8" rx="1.6" fill="#dcdddd"/>
<rect x="858.46" y="142.36" width="7.4" height="7.8" rx="1.6" fill="#ec9e78"/>
<rect x="867.23" y="142.36" width="7.4" height="7.8" rx="1.6" fill="#dcdddd"/>
<rect x="876.00" y="142.36" width="7.4" height="7.8" rx="1.6" fill="#ec9e78"/>
<rect x="884.77" y="142.36" width="7.4" height="7.8" rx="1.6" fill="#dcdddd"/>
<rect x="893.54" y="142.36" width="7.4" height="7.8" rx="1.6" fill="#ec9e78"/>
<rect x="902.31" y="142.36" width="7.4" height="7.8" rx="1.6" fill="#dcdddd"/>
<rect x="911.08" y="142.36" width="7.4" height="7.8" rx="1.6" fill="#ec9e78"/>
<rect x="919.85" y="142.36" width="7.4" height="7.8" rx="1.6" fill="#dcdddd"/>
<rect x="928.62" y="142.36" width="7.4" height="7.8" rx="1.6" fill="#ec9e78"/>
<rect x="937.39" y="142.36" width="7.4" height="7.8" rx="1.6" fill="#dcdddd"/>
<rect x="946.16" y="142.36" width="7.4" height="7.8" rx="1.6" fill="#ec9e78"/>
<rect x="954.93" y="142.36" width="7.4" height="7.8" rx="1.6" fill="#dcdddd"/>
<rect x="963.70" y="142.36" width="7.4" height="7.8" rx="1.6" fill="#dcdddd"/>
<rect x="972.47" y="142.36" width="7.4" height="7.8" rx="1.6" fill="#ec9e78"/>
<rect x="981.24" y="142.36" width="7.4" height="7.8" rx="1.6" fill="#dcdddd"/>
<rect x="990.01" y="142.36" width="7.4" height="7.8" rx="1.6" fill="#ec9e78"/>
<rect x="998.78" y="142.36" width="7.4" height="7.8" rx="1.6" fill="#dcdddd"/>
<rect x="1007.55" y="142.36" width="7.4" height="7.8" rx="1.6" fill="#ec9e78"/>
<rect x="788.30" y="150.69" width="7.4" height="7.8" rx="1.6" fill="#ec9e78"/>
<rect x="797.07" y="150.69" width="7.4" height="7.8" rx="1.6" fill="#dcdddd"/>
<rect x="805.84" y="150.69" width="7.4" height="7.8" rx="1.6" fill="#ec9e78"/>
<rect x="814.61" y="150.69" width="7.4" height="7.8" rx="1.6" fill="#dcdddd"/>
<rect x="823.38" y="150.69" width="7.4" height="7.8" rx="1.6" fill="#ec9e78"/>
<rect x="832.15" y="150.69" width="7.4" height="7.8" rx="1.6" fill="#dcdddd"/>
<rect x="840.92" y="150.69" width="7.4" height="7.8" rx="1.6" fill="#ec9e78"/>
<rect x="849.69" y="150.69" width="7.4" height="7.8" rx="1.6" fill="#dcdddd"/>
<rect x="858.46" y="150.69" width="7.4" height="7.8" rx="1.6" fill="#ec9e78"/>
<rect x="867.23" y="150.69" width="7.4" height="7.8" rx="1.6" fill="#dcdddd"/>
<rect x="876.00" y="150.69" width="7.4" height="7.8" rx="1.6" fill="#ec9e78"/>
<rect x="884.77" y="150.69" width="7.4" height="7.8" rx="1.6" fill="#dcdddd"/>
<rect x="893.54" y="150.69" width="7.4" height="7.8" rx="1.6" fill="#ec9e78"/>
<rect x="902.31" y="150.69" width="7.4" height="7.8" rx="1.6" fill="#dcdddd"/>
<rect x="911.08" y="150.69" width="7.4" height="7.8" rx="1.6" fill="#ec9e78"/>
<rect x="919.85" y="150.69" width="7.4" height="7.8" rx="1.6" fill="#dcdddd"/>
<rect x="928.62" y="150.69" width="7.4" height="7.8" rx="1.6" fill="#ec9e78"/>
<rect x="937.39" y="150.69" width="7.4" height="7.8" rx="1.6" fill="#dcdddd"/>
<rect x="946.16" y="150.69" width="7.4" height="7.8" rx="1.6" fill="#ec9e78"/>
<rect x="954.93" y="150.69" width="7.4" height="7.8" rx="1.6" fill="#dcdddd"/>
<rect x="963.70" y="150.69" width="7.4" height="7.8" rx="1.6" fill="#dcdddd"/>
<rect x="972.47" y="150.69" width="7.4" height="7.8" rx="1.6" fill="#ec9e78"/>
<rect x="981.24" y="150.69" width="7.4" height="7.8" rx="1.6" fill="#dcdddd"/>
<rect x="990.01" y="150.69" width="7.4" height="7.8" rx="1.6" fill="#ec9e78"/>
<rect x="998.78" y="150.69" width="7.4" height="7.8" rx="1.6" fill="#dcdddd"/>
<rect x="1007.55" y="150.69" width="7.4" height="7.8" rx="1.6" fill="#ec9e78"/>
<rect x="788.30" y="159.02" width="7.4" height="7.8" rx="1.6" fill="#ec9e78"/>
<rect x="797.07" y="159.02" width="7.4" height="7.8" rx="1.6" fill="#dcdddd"/>
<rect x="805.84" y="159.02" width="7.4" height="7.8" rx="1.6" fill="#ec9e78"/>
<rect x="814.61" y="159.02" width="7.4" height="7.8" rx="1.6" fill="#dcdddd"/>
<rect x="823.38" y="159.02" width="7.4" height="7.8" rx="1.6" fill="#ec9e78"/>
<rect x="832.15" y="159.02" width="7.4" height="7.8" rx="1.6" fill="#dcdddd"/>
<rect x="840.92" y="159.02" width="7.4" height="7.8" rx="1.6" fill="#ec9e78"/>
<rect x="849.69" y="159.02" width="7.4" height="7.8" rx="1.6" fill="#dcdddd"/>
<rect x="858.46" y="159.02" width="7.4" height="7.8" rx="1.6" fill="#ec9e78"/>
<rect x="867.23" y="159.02" width="7.4" height="7.8" rx="1.6" fill="#dcdddd"/>
<rect x="876.00" y="159.02" width="7.4" height="7.8" rx="1.6" fill="#ec9e78"/>
<rect x="884.77" y="159.02" width="7.4" height="7.8" rx="1.6" fill="#dcdddd"/>
<rect x="893.54" y="159.02" width="7.4" height="7.8" rx="1.6" fill="#ec9e78"/>
<rect x="902.31" y="159.02" width="7.4" height="7.8" rx="1.6" fill="#dcdddd"/>
<rect x="911.08" y="159.02" width="7.4" height="7.8" rx="1.6" fill="#ec9e78"/>
<rect x="919.85" y="159.02" width="7.4" height="7.8" rx="1.6" fill="#dcdddd"/>
<rect x="928.62" y="159.02" width="7.4" height="7.8" rx="1.6" fill="#ec9e78"/>
<rect x="937.39" y="159.02" width="7.4" height="7.8" rx="1.6" fill="#dcdddd"/>
<rect x="946.16" y="159.02" width="7.4" height="7.8" rx="1.6" fill="#ec9e78"/>
<rect x="954.93" y="159.02" width="7.4" height="7.8" rx="1.6" fill="#dcdddd"/>
<rect x="963.70" y="159.02" width="7.4" height="7.8" rx="1.6" fill="#ec9e78"/>
<rect x="972.47" y="159.02" width="7.4" height="7.8" rx="1.6" fill="#dcdddd"/>
<rect x="981.24" y="159.02" width="7.4" height="7.8" rx="1.6" fill="#ec9e78"/>
<rect x="990.01" y="159.02" width="7.4" height="7.8" rx="1.6" fill="#dcdddd"/>
<rect x="998.78" y="159.02" width="7.4" height="7.8" rx="1.6" fill="#ec9e78"/>
<rect x="788.30" y="167.35" width="7.4" height="7.8" rx="1.6" fill="#ec9e78"/>
<rect x="797.07" y="167.35" width="7.4" height="7.8" rx="1.6" fill="#dcdddd"/>
<rect x="805.84" y="167.35" width="7.4" height="7.8" rx="1.6" fill="#ec9e78"/>
<rect x="814.61" y="167.35" width="7.4" height="7.8" rx="1.6" fill="#dcdddd"/>
<rect x="823.38" y="167.35" width="7.4" height="7.8" rx="1.6" fill="#ec9e78"/>
<rect x="832.15" y="167.35" width="7.4" height="7.8" rx="1.6" fill="#dcdddd"/>
<rect x="840.92" y="167.35" width="7.4" height="7.8" rx="1.6" fill="#ec9e78"/>
<rect x="849.69" y="167.35" width="7.4" height="7.8" rx="1.6" fill="#dcdddd"/>
<rect x="858.46" y="167.35" width="7.4" height="7.8" rx="1.6" fill="#ec9e78"/>
<rect x="867.23" y="167.35" width="7.4" height="7.8" rx="1.6" fill="#dcdddd"/>
<rect x="876.00" y="167.35" width="7.4" height="7.8" rx="1.6" fill="#ec9e78"/>
<rect x="884.77" y="167.35" width="7.4" height="7.8" rx="1.6" fill="#dcdddd"/>
<rect x="893.54" y="167.35" width="7.4" height="7.8" rx="1.6" fill="#ec9e78"/>
<rect x="902.31" y="167.35" width="7.4" height="7.8" rx="1.6" fill="#dcdddd"/>
<rect x="911.08" y="167.35" width="7.4" height="7.8" rx="1.6" fill="#ec9e78"/>
<rect x="919.85" y="167.35" width="7.4" height="7.8" rx="1.6" fill="#dcdddd"/>
<rect x="928.62" y="167.35" width="7.4" height="7.8" rx="1.6" fill="#ec9e78"/>
<rect x="937.39" y="167.35" width="7.4" height="7.8" rx="1.6" fill="#dcdddd"/>
<rect x="946.16" y="167.35" width="7.4" height="7.8" rx="1.6" fill="#ec9e78"/>
<rect x="954.93" y="167.35" width="7.4" height="7.8" rx="1.6" fill="#dcdddd"/>
<rect x="963.70" y="167.35" width="7.4" height="7.8" rx="1.6" fill="#ec9e78"/>
<rect x="972.47" y="167.35" width="7.4" height="7.8" rx="1.6" fill="#dcdddd"/>
<rect x="981.24" y="167.35" width="7.4" height="7.8" rx="1.6" fill="#ec9e78"/>
<rect x="990.01" y="167.35" width="7.4" height="7.8" rx="1.6" fill="#dcdddd"/>
<rect x="998.78" y="167.35" width="7.4" height="7.8" rx="1.6" fill="#ec9e78"/>
<path d="M1018 89.4H1029.1V120.6H779.3V151.7H784" stroke="#444" stroke-width="1" fill="none"/>
<path d="M787.5 151.7L782.5 149.3L782.5 154.1Z" fill="#222"/>
<g transform="translate(768.0 167.2) rotate(-90)"><text x="0" y="0" font-size="14.7" fill="#231f20">Individual Mice</text></g>
<rect x="783.9" y="185.4" width="8.1" height="7.5" rx="1.5" fill="#4a1d4e"/>
<text x="797.2" y="192.7" font-size="12.2" fill="#5b3563" font-weight="400" text-anchor="start" >Stage 1</text>
<rect x="854.2" y="185.4" width="8" height="7.5" rx="1.5" fill="#ec9e78"/>
<text x="868.1" y="192.7" font-size="12.6" fill="#eba684" font-weight="400" text-anchor="start" >Stage 2</text>
<rect x="925.9" y="185.3" width="8.1" height="7.6" rx="1.5" fill="#dcdddd"/>
<text x="940.6" y="192.9" font-size="12.5" fill="#231f20" font-weight="400" text-anchor="start" >No experiment</text>
<text x="221.0" y="221.4" font-size="14.5" fill="#53295a" font-weight="400" text-anchor="middle" >Stage 1</text>
<text x="426.2" y="221.4" font-size="14.5" fill="#eba684" font-weight="400" text-anchor="middle" >Stage 2</text>
<text x="99.8" y="381.48" font-size="13.9" fill="#231f20" font-weight="400" text-anchor="end" >40</text>
<text x="99.8" y="359.55" font-size="13.9" fill="#231f20" font-weight="400" text-anchor="end" >50</text>
<text x="99.8" y="337.62" font-size="13.9" fill="#231f20" font-weight="400" text-anchor="end" >60</text>
<text x="99.8" y="315.69" font-size="13.9" fill="#231f20" font-weight="400" text-anchor="end" >70</text>
<text x="99.8" y="293.76" font-size="13.9" fill="#231f20" font-weight="400" text-anchor="end" >80</text>
<text x="99.8" y="271.83" font-size="13.9" fill="#231f20" font-weight="400" text-anchor="end" >90</text>
<text x="99.8" y="249.9" font-size="13.9" fill="#231f20" font-weight="400" text-anchor="end" >100</text>
<path d="M109.8 241.90V373.48M104.4 373.48H109.8M104.4 351.55H109.8M104.4 329.62H109.8M104.4 307.69H109.8M104.4 285.76H109.8M104.4 263.83H109.8M104.4 241.90H109.8" stroke="#3a3a3a" stroke-width="1.2" fill="none"/>
<path d="M119.10 377.5H309.90M329.40 377.5H520.20M119.10 377.5V384.6M329.40 377.5V384.6M135.00 377.5V384.6M345.30 377.5V384.6M150.90 377.5V384.6M361.20 377.5V384.6M166.80 377.5V384.6M377.10 377.5V384.6M182.70 377.5V384.6M393.00 377.5V384.6M198.60 377.5V384.6M408.90 377.5V384.6M214.50 377.5V384.6M424.80 377.5V384.6M230.40 377.5V384.6M440.70 377.5V384.6M246.30 377.5V384.6M456.60 377.5V384.6M262.20 377.5V384.6M472.50 377.5V384.6M278.10 377.5V384.6M488.40 377.5V384.6M294.00 377.5V384.6M504.30 377.5V384.6M309.90 377.5V384.6M520.20 377.5V384.6" stroke="#3a3a3a" stroke-width="1.2" fill="none"/>
<text x="119.1" y="400.8" font-size="13.8" fill="#231f20" font-weight="400" text-anchor="middle" >1</text>
<text x="329.4" y="400.8" font-size="13.8" fill="#231f20" font-weight="400" text-anchor="middle" >1</text>
<text x="150.9" y="400.8" font-size="13.8" fill="#231f20" font-weight="400" text-anchor="middle" >3</text>
<text x="361.2" y="400.8" font-size="13.8" fill="#231f20" font-weight="400" text-anchor="middle" >3</text>
<text x="182.7" y="400.8" font-size="13.8" fill="#231f20" font-weight="400" text-anchor="middle" >5</text>
<text x="393.0" y="400.8" font-size="13.8" fill="#231f20" font-weight="400" text-anchor="middle" >5</text>
<text x="214.5" y="400.8" font-size="13.8" fill="#231f20" font-weight="400" text-anchor="middle" >7</text>
<text x="424.79999999999995" y="400.8" font-size="13.8" fill="#231f20" font-weight="400" text-anchor="middle" >7</text>
<text x="246.3" y="400.8" font-size="13.8" fill="#231f20" font-weight="400" text-anchor="middle" >9</text>
<text x="456.59999999999997" y="400.8" font-size="13.8" fill="#231f20" font-weight="400" text-anchor="middle" >9</text>
<text x="278.1" y="400.8" font-size="13.8" fill="#231f20" font-weight="400" text-anchor="middle" >11</text>
<text x="488.4" y="400.8" font-size="13.8" fill="#231f20" font-weight="400" text-anchor="middle" >11</text>
<text x="309.9" y="400.8" font-size="13.8" fill="#231f20" font-weight="400" text-anchor="middle" >13</text>
<text x="520.2" y="400.8" font-size="13.8" fill="#231f20" font-weight="400" text-anchor="middle" >13</text>
<text x="309.5" y="417.0" font-size="14.5" fill="#231f20" font-weight="400" text-anchor="middle" >Training Session</text>
<g transform="translate(52.8 301.5) rotate(-90)"><text x="0" y="0" font-size="14.4" fill="#231f20" text-anchor="middle">Correct Decision</text></g>
<g transform="translate(68.0 300.0) rotate(-90)"><text x="0" y="0" font-size="14.0" fill="#231f20" text-anchor="middle">Rate (%)</text></g>
<path d="M119.10 348.40L135.00 312.00L150.90 290.00L166.80 277.50L182.70 281.20L198.60 286.80L214.50 275.70L230.40 271.80L246.30 277.40L262.20 257.70L278.10 251.30L294.00 252.60L309.90 249.00" stroke="#c42a62" stroke-width="1.2" fill="none"/>
<path d="M119.10 343.10V354.60M115.10 343.10H123.10M115.10 354.60H123.10M135.00 295.30V325.60M131.00 295.30H139.00M131.00 325.60H139.00M150.90 278.50V302.60M146.90 278.50H154.90M146.90 302.60H154.90M166.80 262.90V296.50M162.80 262.90H170.80M162.80 296.50H170.80M182.70 265.40V302.60M178.70 265.40H186.70M178.70 302.60H186.70M198.60 271.40V307.30M194.60 271.40H202.60M194.60 307.30H202.60M214.50 261.20V295.30M210.50 261.20H218.50M210.50 295.30H218.50M230.40 260.30V286.80M226.40 260.30H234.40M226.40 286.80H234.40M246.30 262.90V290.60M242.30 262.90H250.30M242.30 290.60H250.30M262.20 254.30V261.20M258.20 254.30H266.20M258.20 261.20H266.20M278.10 248.00V255.60M274.10 248.00H282.10M274.10 255.60H282.10M294.00 250.00V255.60M290.00 250.00H298.00M290.00 255.60H298.00M309.90 246.20V252.50M305.90 246.20H313.90M305.90 252.50H313.90" stroke="#d0668e" stroke-width="1.1" fill="none"/>
<circle cx="119.10" cy="348.40" r="1.9" fill="#c42a62"/>
<circle cx="135.00" cy="312.00" r="1.9" fill="#c42a62"/>
<circle cx="150.90" cy="290.00" r="1.9" fill="#c42a62"/>
<circle cx="166.80" cy="277.50" r="1.9" fill="#c42a62"/>
<circle cx="182.70" cy="281.20" r="1.9" fill="#c42a62"/>
<circle cx="198.60" cy="286.80" r="1.9" fill="#c42a62"/>
<circle cx="214.50" cy="275.70" r="1.9" fill="#c42a62"/>
<circle cx="230.40" cy="271.80" r="1.9" fill="#c42a62"/>
<circle cx="246.30" cy="277.40" r="1.9" fill="#c42a62"/>
<circle cx="262.20" cy="257.70" r="1.9" fill="#c42a62"/>
<circle cx="278.10" cy="251.30" r="1.9" fill="#c42a62"/>
<circle cx="294.00" cy="252.60" r="1.9" fill="#c42a62"/>
<circle cx="309.90" cy="249.00" r="1.9" fill="#c42a62"/>
<path d="M329.40 252.50L345.30 253.40L361.20 250.30L377.10 252.50L393.00 250.70L408.90 249.40L424.80 252.40L440.70 250.60L456.60 249.20L472.50 248.80L488.40 249.20L504.30 247.00L520.20 248.50" stroke="#c42a62" stroke-width="1.2" fill="none"/>
<path d="M329.40 247.40V257.50M325.40 247.40H333.40M325.40 257.50H333.40M345.30 249.60V257.30M341.30 249.60H349.30M341.30 257.30H349.30M361.20 246.20V254.80M357.20 246.20H365.20M357.20 254.80H365.20M377.10 245.60V261.50M373.10 245.60H381.10M373.10 261.50H381.10M393.00 246.70V254.80M389.00 246.70H397.00M389.00 254.80H397.00M408.90 245.80V253.40M404.90 245.80H412.90M404.90 253.40H412.90M424.80 246.40V258.50M420.80 246.40H428.80M420.80 258.50H428.80M440.70 244.60V261.20M436.70 244.60H444.70M436.70 261.20H444.70M456.60 244.60V255.70M452.60 244.60H460.60M452.60 255.70H460.60M472.50 244.00V257.90M468.50 244.00H476.50M468.50 257.90H476.50M488.40 246.00V253.00M484.40 246.00H492.40M484.40 253.00H492.40M504.30 244.50V250.50M500.30 244.50H508.30M500.30 250.50H508.30M520.20 244.40V253.70M516.20 244.40H524.20M516.20 253.70H524.20" stroke="#d0668e" stroke-width="1.1" fill="none"/>
<circle cx="329.40" cy="252.50" r="1.9" fill="#c42a62"/>
<circle cx="345.30" cy="253.40" r="1.9" fill="#c42a62"/>
<circle cx="361.20" cy="250.30" r="1.9" fill="#c42a62"/>
<circle cx="377.10" cy="252.50" r="1.9" fill="#c42a62"/>
<circle cx="393.00" cy="250.70" r="1.9" fill="#c42a62"/>
<circle cx="408.90" cy="249.40" r="1.9" fill="#c42a62"/>
<circle cx="424.80" cy="252.40" r="1.9" fill="#c42a62"/>
<circle cx="440.70" cy="250.60" r="1.9" fill="#c42a62"/>
<circle cx="456.60" cy="249.20" r="1.9" fill="#c42a62"/>
<circle cx="472.50" cy="248.80" r="1.9" fill="#c42a62"/>
<circle cx="488.40" cy="249.20" r="1.9" fill="#c42a62"/>
<circle cx="504.30" cy="247.00" r="1.9" fill="#c42a62"/>
<circle cx="520.20" cy="248.50" r="1.9" fill="#c42a62"/>
<path d="M329.40 309.20L345.30 261.50L361.20 255.70L377.10 256.30L393.00 251.20L408.90 249.70L424.80 249.20L440.70 247.00L456.60 249.00L472.50 249.00L488.40 249.20L504.30 247.00L520.20 245.80" stroke="#f09a6c" stroke-width="1.2" fill="none"/>
<path d="M329.40 293.00V326.00M325.40 293.00H333.40M325.40 326.00H333.40M345.30 257.50V266.90M341.30 257.50H349.30M341.30 266.90H349.30M361.20 252.50V260.80M357.20 252.50H365.20M357.20 260.80H365.20M377.10 253.00V260.00M373.10 253.00H381.10M373.10 260.00H381.10M393.00 249.60V255.70M389.00 249.60H397.00M389.00 255.70H397.00M408.90 245.80V253.70M404.90 245.80H412.90M404.90 253.70H412.90M424.80 246.50V252.50M420.80 246.50H428.80M420.80 252.50H428.80M440.70 244.50V250.50M436.70 244.50H444.70M436.70 250.50H444.70M456.60 246.00V252.50M452.60 246.00H460.60M452.60 252.50H460.60M472.50 246.00V252.50M468.50 246.00H476.50M468.50 252.50H476.50M488.40 246.50V252.50M484.40 246.50H492.40M484.40 252.50H492.40M504.30 244.50V250.00M500.30 244.50H508.30M500.30 250.00H508.30M520.20 243.50V248.50M516.20 243.50H524.20M516.20 248.50H524.20" stroke="#f2b08c" stroke-width="1.1" fill="none"/>
<circle cx="329.40" cy="309.20" r="1.9" fill="#f09a6c"/>
<circle cx="345.30" cy="261.50" r="1.9" fill="#f09a6c"/>
<circle cx="361.20" cy="255.70" r="1.9" fill="#f09a6c"/>
<circle cx="377.10" cy="256.30" r="1.9" fill="#f09a6c"/>
<circle cx="393.00" cy="251.20" r="1.9" fill="#f09a6c"/>
<circle cx="408.90" cy="249.70" r="1.9" fill="#f09a6c"/>
<circle cx="424.80" cy="249.20" r="1.9" fill="#f09a6c"/>
<circle cx="440.70" cy="247.00" r="1.9" fill="#f09a6c"/>
<circle cx="456.60" cy="249.00" r="1.9" fill="#f09a6c"/>
<circle cx="472.50" cy="249.00" r="1.9" fill="#f09a6c"/>
<circle cx="488.40" cy="249.20" r="1.9" fill="#f09a6c"/>
<circle cx="504.30" cy="247.00" r="1.9" fill="#f09a6c"/>
<circle cx="520.20" cy="245.80" r="1.9" fill="#f09a6c"/>
<path d="M449.6 313.7H465.3M457.4 310.6V317.2M455.4 310.6H459.4M455.4 317.2H459.4" stroke="#d0668e" stroke-width="1.1"/><circle cx="457.4" cy="313.7" r="1.6" fill="#c42a62"/>
<text x="469.0" y="319.4" font-size="14.4" fill="#231f20" font-weight="400" text-anchor="start" >Maze A</text>
<path d="M449.6 333.9H465.3M457.4 330.8V337M455.4 330.8H459.4M455.4 337H459.4" stroke="#f2b08c" stroke-width="1.1"/><circle cx="457.4" cy="333.9" r="1.6" fill="#f09a6c"/>
<text x="469.0" y="338.9" font-size="14.4" fill="#231f20" font-weight="400" text-anchor="start" >Maze B</text>
<text x="580.0" y="232.8" font-size="12.6" fill="#231f20" font-weight="400" text-anchor="start" >UCLA Miniscope</text>
<text x="660.4" y="265.3" font-size="12.7" fill="#7ccbb0" font-weight="400" text-anchor="start" >rAAV-hsyn-GCaMP6f-</text>
<text x="660.4" y="279.5" font-size="12.7" fill="#7ccbb0" font-weight="400" text-anchor="start" >SPRE-hGH-pA</text>
<text x="679.5" y="307.8" font-size="12.4" fill="#231f20" font-weight="400" text-anchor="start" >GRIN lens</text>
<path d="M572.2 285.3C580 285.8 590 287.2 600 287.6L622 285.5C628 283 632 281.2 636 281C640 280.8 647 282.4 650.6 285.5C653 287.4 655 289 655.2 290.8C655.6 292.8 655.4 294 654.2 295C652.6 297 651 298 649.1 299.4C646 301.6 643 303.4 640.3 305.2C637.6 307 635 308.6 633.7 310.3C632.6 311.8 631.8 313 631.5 314C632.4 315.6 633.6 316.8 634.8 317.4C637 317 640 317.2 642 318.4C643.4 319.4 643.4 321.6 642 322.6C640 323.4 636.5 322.8 633.5 321.6C631.6 320.8 630 320 628.4 319C625.6 317.4 621.6 316.8 618.4 317.6C616.4 318.6 615.2 321 615 323.5C614.8 327 615.6 332 617.2 335.5C620 336 623.6 337.6 625.4 339.8C626.2 341.4 625.2 342.8 623 342.6C619 342.2 614.6 341 611.8 340C609.6 336 607.8 331.6 604.6 328.2C601.6 325.4 597 324.2 592 325C586 326 578 328.2 573.1 329.4Z" fill="#545151" stroke="#1e1e1e" stroke-width="0.8"/>
<path d="M635.4 317.6C638 317.4 640.6 317.6 642 318.6C643.2 319.6 643.2 321.4 642 322.4C640 323 637 322.6 634.4 321.6Z" fill="#d4a8a8" stroke="#2a2020" stroke-width="0.5"/>
<path d="M617.4 335.8C620.4 336.4 623.6 337.8 625.2 340C625.8 341.4 624.8 342.6 622.8 342.4C619.6 342 616 341 613 340.2Z" fill="#d4a8a8" stroke="#2a2020" stroke-width="0.5"/>
<path d="M619.9 274.9H639.6V282.2H619.9Z" fill="#e2e4e5" stroke="#8a8a8a" stroke-width="0.5"/>
<path d="M619.9 274.9H639.6V276.4H619.9Z" fill="#f4f5f5"/>
<path d="M609.8 263.7H638.4V275.4H609.8Z" fill="#777b7e" stroke="#2e2e2e" stroke-width="0.6"/>
<path d="M628 264.6H638.4V275.4H628Z" fill="#606467"/>
<path d="M609.8 263.7H638.4V265.6H609.8Z" fill="#9a9ea1"/>
<path d="M610.9 256.3H634.5V264.4H610.9Z" fill="#6c7073" stroke="#2e2e2e" stroke-width="0.6"/>
<path d="M610.9 256.3H634.5V258.2H610.9Z" fill="#8f9396"/>
<path d="M604.2 248.6H638.4V256.9H604.2Z" fill="#7b8083" stroke="#2e2e2e" stroke-width="0.6"/>
<path d="M626 249.4H638.4V256.9H626Z" fill="#686c6f"/>
<path d="M603.1 246.2L610.6 243.3H643.5L641.2 248.8H604.4Z" fill="#33566b" stroke="#23323c" stroke-width="0.5"/>
<path d="M606.6 246.0L611.6 244.4H640.6L639.2 247.2H607.4Z" fill="#6d777c"/>
<rect x="607.6" y="242.4" width="7.3" height="3.2" rx="0.6" fill="#eef1f2" stroke="#888" stroke-width="0.4"/>
<rect x="616" y="238.4" width="3.9" height="5.6" rx="1" fill="#f3f5f6" stroke="#888" stroke-width="0.5"/>
<circle cx="613.4" cy="268.2" r="0.45" fill="#3a3a3a"/><circle cx="616.6" cy="272.4" r="0.45" fill="#3a3a3a"/><circle cx="622.4" cy="268.6" r="0.45" fill="#3a3a3a"/><circle cx="622.8" cy="273.2" r="0.45" fill="#3a3a3a"/>
<ellipse cx="611" cy="282.6" rx="10.8" ry="9.3" transform="rotate(-20 611 282.6)" fill="#d8b2b2" stroke="#2a2020" stroke-width="0.9"/>
<path d="M606 274.6C612.6 275.6 618.4 280.4 619.6 287.6" stroke="#6e5050" stroke-width="0.8" fill="none"/>
<ellipse cx="637.4" cy="292" rx="1.7" ry="1.9" fill="#1a1a1a"/><circle cx="637" cy="291.4" r="0.5" fill="#aaa"/>
<path d="M708 324.3C706.5 320 702 315.6 694.6 314.8C688 314.2 683 315 677.5 316.7C670 319 664 322 660.3 326.2C655 331.5 651 337 648.8 342.5C646.6 348 645.8 352 646 355.8C646.4 362 648 366.6 650.7 371.1C655 377.5 660 381 666 383.5C671 385.6 675 388 678.4 389.2C682 390.2 685.5 389.8 687.2 388.2C688.6 386.4 689.4 383.4 690 381.6C690.8 383.6 691.6 385 692.9 385.8C695 387 698 387.6 700.4 388.6C703 389.8 705.6 391 706.4 390.6C707.4 389.8 707.6 388 708 386.4C708.4 388 708.8 389.8 709.6 390.6C710.6 391.2 713.4 389.8 717.5 388.6C720.4 387.6 723 386.4 724.4 385.4C725.4 384.4 725.8 383 726.1 381.6C726.8 383.4 727.6 386.4 729.2 388.2C731 389.8 735 390.4 738.5 389.2C744 387.4 748.6 386 753.8 383.5C760 380 764 375 767.2 369.2C770.4 363 772 358 772 353.9C772 348 770.6 343 768.1 338.6C765 332.6 761.4 328.6 757.6 325.3C752 320.4 746.6 317.6 740.5 315.7C734 313.8 727 314 721.4 314.8C716 315.6 712 317.6 710 320.6C709 322 708.4 323.2 708 324.3Z" fill="#fff" stroke="#2a2a2a" stroke-width="1.1"/>
<path d="M708 326.5C705.5 321.5 700.5 317.6 694.6 317.2C687 316.8 679 318.6 672 322C664 326 657 333 652.4 342C648.8 349.4 648.2 357 649.6 364.6C651.4 373 657.4 379.6 666.4 382.2M708 326.5C710.5 321.5 715.6 317.6 721.6 317.2C729.4 316.8 737.6 318.6 744.6 322C752.4 326 759.6 333 764 342C767.6 349.4 768.2 357 766.8 364.6C765 373 759 379.6 750 382.2" stroke="#9a9a9a" stroke-width="0.5" fill="none"/>
<path d="M670 335.3C678 328 688 324 697 323.6C702 323.6 705.6 325 707.8 326.7C710 325 713.6 323.6 718.6 323.6C727.6 324 737.6 328 745.6 335.3M664 350C661 356 661 364 664 372C666.6 378 670 380 676 381M752 350C755 356 755 364 752 372C749.4 378 746 380 740 381M666 360C670 364 674 366 680 366M750 360C746 364 742 366 736 366" stroke="#c8c8c8" stroke-width="0.7" fill="none"/>
<path d="M702.8 331.7C696 327.4 686 326.4 680.6 330.4C677 333.4 678.4 337.4 683 337.6C690 337.9 696 336.6 701.5 335.7M688.2 336.4C691 333 696.6 332.6 701.4 334.6M712.8 331.7C719.6 327.4 729.6 326.4 735 330.4C738.6 333.4 737.2 337.4 732.6 337.6C725.6 337.9 719.6 336.6 714.1 335.7M727.4 336.4C724.6 333 719 332.6 714.2 334.6" stroke="#2a2a2a" stroke-width="0.9" fill="none"/>
<path d="M707.8 320V326.7" stroke="#2a2a2a" stroke-width="0.9"/>
<path d="M707.8 331.8C708.8 332.8 709.6 333.6 711 334.6C712.2 335.6 711.4 337.6 711.8 339C712 340.6 710.6 342 710.2 343.6C709.8 345 709 346.4 707.8 347C706.6 346.4 705.8 345 705.4 343.6C705 342 703.6 340.6 703.8 339C704.2 337.6 703.4 335.6 704.6 334.6C706 333.6 706.8 332.8 707.8 331.8Z" fill="#fff" stroke="#2a2a2a" stroke-width="0.9"/>
<path d="M676.6 338.2C673.6 342 672.4 348 673 354C674 352.6 675.6 351.6 677 352.2C676.4 348 676.2 342.4 676.6 338.2ZM739 338.2C742 342 743.2 348 742.6 354C741.6 352.6 740 351.6 738.6 352.2C739.2 348 739.4 342.4 739 338.2Z" fill="#fff" stroke="#2a2a2a" stroke-width="0.85"/>
<path d="M708 384.4C707 381 707.4 378.4 708 377.6C708.6 378.4 709 381 708 384.4" stroke="#333" stroke-width="0.8" fill="none"/>
<path d="M742.6 315.4L733.4 330" stroke="#bdbdbd" stroke-width="0.6"/>
<g transform="rotate(12 730 318)"><path d="M727 312V325A3 1.4 0 0 0 733 325V312" fill="#fff" stroke="#222" stroke-width="0.8"/><ellipse cx="730" cy="312" rx="3" ry="1.4" fill="#fff" stroke="#222" stroke-width="0.8"/></g>
<g transform="translate(755.2 299.4) rotate(42)"><rect x="-1.95" y="-19" width="3.9" height="37.5" fill="#fff" stroke="#222" stroke-width="0.85"/><path d="M0 -17V16.5" stroke="#b0b0b0" stroke-width="0.5"/><path d="M-4.4 -19.2H4.4M0 -19V-24M-2.3 -24H2.3M0 18.5V21" stroke="#222" stroke-width="0.85"/></g>
<defs><clipPath id="fclip"><rect x="812" y="235" width="207" height="162.5"/></clipPath><filter id="speck" x="812" y="235" width="207" height="163" filterUnits="userSpaceOnUse"><feTurbulence type="fractalNoise" baseFrequency="0.85" numOctaves="2" seed="3" result="n"/><feColorMatrix in="n" type="matrix" values="0 0 0 0 0.06  0 0 0 0 0.2  0 0 0 0 0.85  0 0 0 2.2 -0.95" result="c"/><feComposite in="c" in2="SourceGraphic" operator="in"/></filter><filter id="mottle" x="812" y="235" width="207" height="163" filterUnits="userSpaceOnUse"><feTurbulence type="fractalNoise" baseFrequency="0.07" numOctaves="3" seed="7" result="n"/><feColorMatrix in="n" type="matrix" values="0 0 0 0 0.01  0 0 0 0 0.02  0 0 0 0 0.1  0 0 0 3.5 -1.2" result="c"/><feComposite in="c" in2="SourceGraphic" operator="in"/></filter><filter id="gblur" x="-20%" y="-50%" width="140%" height="200%"><feGaussianBlur stdDeviation="3"/></filter><filter id="gblur1" x="-20%" y="-50%" width="140%" height="200%"><feGaussianBlur stdDeviation="1.2"/></filter><filter id="bblur" x="-20%" y="-50%" width="140%" height="200%"><feGaussianBlur stdDeviation="0.7"/></filter></defs>
<g clip-path="url(#fclip)">
<rect x="812" y="235" width="207" height="162.5" fill="#010206"/>
<path d="M812 397.5V243.5C816 241.6 826 241 831.4 243.2C833.4 246 834 252 834 262C834 280 834 292 834 303.5C840 305.5 846 306.6 852 307C862 307.4 870 307.6 878 309.6C895 313.6 915 319 935.8 325.8C942 327.8 947 329 951 328.6C954 328 956.4 326 957.6 323C958.6 312 958.6 302 959.6 294C961 287 965 280.6 971 279C978 279.4 984 283 990 287C998 292 1008 301 1019 308.5V397.5Z" fill="#071146"/>
<path d="M812 397.5V243.5C816 241.6 826 241 831.4 243.2C833.4 246 834 252 834 262C834 280 834 292 834 303.5C840 305.5 846 306.6 852 307C862 307.4 870 307.6 878 309.6C895 313.6 915 319 935.8 325.8C942 327.8 947 329 951 328.6C954 328 956.4 326 957.6 323C958.6 312 958.6 302 959.6 294C961 287 965 280.6 971 279C978 279.4 984 283 990 287C998 292 1008 301 1019 308.5V397.5Z" fill="#fff" filter="url(#mottle)"/>
<path d="M812 397.5V243.5C816 241.6 826 241 831.4 243.2C833.4 246 834 252 834 262C834 280 834 292 834 303.5C840 305.5 846 306.6 852 307C862 307.4 870 307.6 878 309.6C895 313.6 915 319 935.8 325.8C942 327.8 947 329 951 328.6C954 328 956.4 326 957.6 323C958.6 312 958.6 302 959.6 294C961 287 965 280.6 971 279C978 279.4 984 283 990 287C998 292 1008 301 1019 308.5V397.5Z" fill="#fff" filter="url(#speck)" opacity="0.42"/>
<path d="M816 345C830 330 850 322 870 322C900 324 925 334 940 350C948 360 952 375 954 397.5H812V350Z" fill="#040a2c" opacity="0.55" filter="url(#gblur)"/>
<path d="M840 374C860 372 890 374 915 380C930 384 945 390 955 397.5H812V380Z" fill="#03081f" opacity="0.4" filter="url(#gblur)"/>
<path d="M812 243.5C816 241.6 826 241 831.4 243.2C833.4 246 834 252 834 262C834 280 834 292 834 303.5" stroke="#2c56cc" stroke-width="1" fill="none" opacity="0.55"/>
<path d="M957.6 323C958.6 312 958.6 302 959.6 294C961 287 965 280.6 971 279C978 279.4 984 283 990 287C998 292 1008 301 1019 308.5" stroke="#3263d8" stroke-width="1" fill="none" opacity="0.6"/>
<path d="M961 300C963 291 967 285 973 283C983 286 996 294 1008 302L1019 309" stroke="#1e3ea8" stroke-width="0.8" fill="none" opacity="0.45"/>
<path d="M962 298C975 305 995 318 1019 333" stroke="#2a5ad8" stroke-width="5" fill="none" opacity="0.35" filter="url(#gblur1)"/>
<path d="M830 250V300M815 250C818 270 818 290 816 300" stroke="#2a5ad8" stroke-width="3" fill="none" opacity="0.2" filter="url(#gblur1)"/>
<path d="M846 306C860 307.4 872 307.8 880 309.8C897 313.8 917 319.4 940 327C946 331 946 340 938 343C925 343 905 338 885 330C868 323 855 318 846 313Z" fill="#45b838" opacity="0.62" filter="url(#gblur)"/>
<path d="M850 307.6C865 308.6 878 309.6 890 312.6C905 316.4 920 321 934 326.4C936 329 933 331 929 330.6C912 327 895 321 875 315.6C865 313 856 311 850 310Z" fill="#74e44a" opacity="0.42" filter="url(#gblur1)"/>
<path d="M812 334.5C818 331 824 328.6 830 327.8C836 325 840 321.6 845 320C850 317.6 856 315.4 864 315C885 317.6 910 325 930 332.6C942 337 950 346 956 356C959 362 962 372 966 397.5" stroke="#2858d8" stroke-width="2.6" fill="none" filter="url(#bblur)" opacity="0.8"/>
<path d="M862 315C885 317.6 910 325.6 932 333.6" stroke="#7fe0b8" stroke-width="0.9" fill="none" opacity="0.6"/>
<path d="M832 363.4C845 357 860 352 876 350.4C890 349.6 905 353 920 360.6C905 357.2 890 353.8 876 354.2C866 354.6 858 357 850 361.4C868 361 884 363.6 894 367.4C897 369 899 371 899.8 372.2C890 368.8 876 366.8 860 366.2C848 365.8 838 365.2 832 363.4Z" fill="#2552d0" filter="url(#bblur)" opacity="0.75"/>
<path d="M812 381C830 385 860 383 880 384C910 385 940 379 970 391" stroke="#1a3590" stroke-width="0.8" fill="none" opacity="0.5"/>
<rect x="980.6" y="386.8" width="30" height="3.6" fill="#ffffff"/>
</g>
<text x="943.6" y="253.3" font-size="12.8" fill="#78cba2" font-weight="400" text-anchor="start" >GCaMP6f</text>
<text x="969.2" y="268.0" font-size="12.4" fill="#1e3d9e" font-weight="400" text-anchor="start" >DAPI</text>
</g>
</svg></body></html>
